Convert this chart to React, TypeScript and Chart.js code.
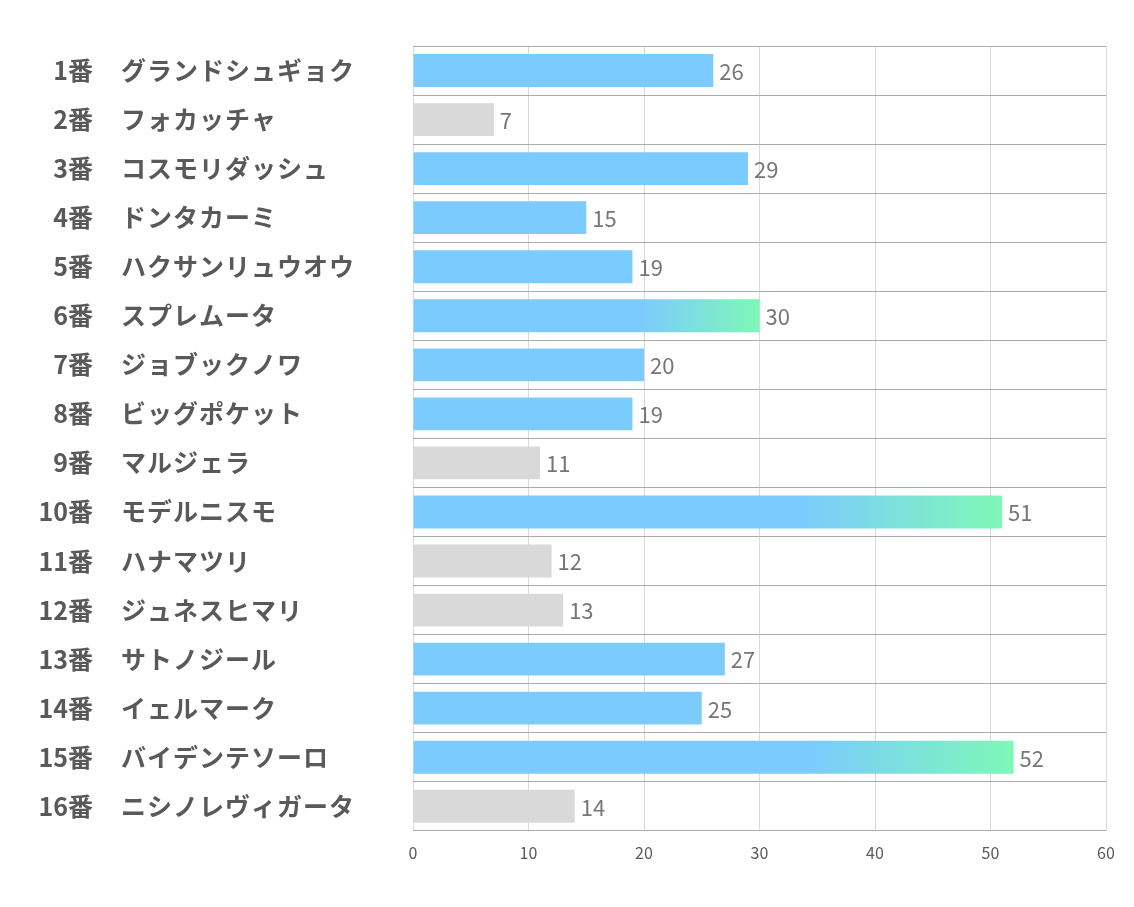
import React, { useEffect, useRef } from "react";
import { Chart, registerables } from "chart.js";

Chart.register(...registerables);

const numbers = ["1番", "2番", "3番", "4番", "5番", "6番", "7番", "8番", "9番", "10番", "11番", "12番", "13番", "14番", "15番", "16番"];
const names = [
  "グランドシュギョク", "フォカッチャ", "コスモリダッシュ", "ドンタカーミ", "ハクサンリュウオウ", "スプレムータ",
  "ジョブックノワ", "ビッグポケット", "マルジェラ", "モデルニスモ", "ハナマツリ", "ジュネスヒマリ",
  "サトノジール", "イェルマーク", "バイデンテソーロ", "ニシノレヴィガータ",
];
const values = [26, 7, 29, 15, 19, 30, 20, 19, 11, 51, 12, 13, 27, 25, 52, 14];
const kinds = ["b", "g", "b", "b", "b", "x", "b", "b", "g", "x", "g", "g", "b", "b", "x", "g"];
const xTicks = [0, 10, 20, 30, 40, 50, 60];

const BLUE = "#7BCBFE";
const GREEN = "#7EF8B6";
const GRAY = "#D9D9D9";
const FONT = "'Noto Sans CJK JP', 'Noto Sans', sans-serif";

export default function App() {
  const ref = useRef<HTMLCanvasElement | null>(null);
  useEffect(() => {
    document.body.style.margin = "0";
    const canvas = ref.current!;
    const labelPlugin = {
      id: "rowLabels",
      afterDraw(chart: any) {
        const ctx = chart.ctx;
        const y = chart.scales.y;
        const x = chart.scales.x;
        ctx.save();
        ctx.textBaseline = "middle";
        ctx.fillStyle = "#595959";
        ctx.font = `bold 25px ${FONT}`;
        numbers.forEach((n, i) => {
          const py = y.getPixelForValue(i);
          ctx.textAlign = "right";
          (ctx as any).letterSpacing = "0px";
          ctx.fillText(n, 93, py);
          ctx.textAlign = "left";
          (ctx as any).letterSpacing = "1px";
          ctx.fillText(names[i], 121, py);
        });
        (ctx as any).letterSpacing = "0px";
        ctx.font = `22px ${FONT}`;
        ctx.fillStyle = "#767676";
        ctx.textAlign = "left";
        values.forEach((v, i) => {
          ctx.fillText(String(v), x.getPixelForValue(v) + 6, y.getPixelForValue(i) + 1);
        });
        ctx.restore();
      },
    };
    const chart = new Chart(canvas, {
      type: "bar",
      data: {
        labels: numbers.map((n, i) => n + "　" + names[i]),
        datasets: [
          {
            data: values,
            barPercentage: 0.67,
            categoryPercentage: 1,
            backgroundColor: (c: any) => {
              const i = c.dataIndex;
              const k = kinds[i];
              if (k === "g") return GRAY;
              if (k === "b") return BLUE;
              const sx = c.chart.scales?.x;
              if (!sx || i === undefined) return BLUE;
              const x0 = sx.getPixelForValue(0);
              const x1 = sx.getPixelForValue(values[i]);
              if (!isFinite(x0) || !isFinite(x1) || x1 <= x0) return BLUE;
              const g = c.chart.ctx.createLinearGradient(x0, 0, x1, 0);
              g.addColorStop(0, BLUE);
              g.addColorStop(0.66, BLUE);
              g.addColorStop(1, GREEN);
              return g;
            },
          },
        ],
      },
      options: {
        indexAxis: "y",
        animation: false,
        responsive: false,
        maintainAspectRatio: false,
        layout: { padding: { left: 413, top: 46, right: 28, bottom: 31 } },
        plugins: { legend: { display: false }, tooltip: { enabled: false } },
        scales: {
          x: {
            min: 0,
            max: 60,
            afterBuildTicks: (s: any) => {
              s.ticks = xTicks.map((v) => ({ value: v }));
            },
            grid: { color: "#D9D9D9", lineWidth: 1, drawTicks: false },
            border: { display: false },
            ticks: { color: "#595959", font: { family: FONT, size: 16 }, padding: 13 },
          },
          y: {
            grid: { color: "#ABABAB", lineWidth: 1, offset: true, drawTicks: false },
            border: { display: false },
            ticks: { display: false },
          },
        },
      },
      plugins: [labelPlugin],
    } as any);
    return () => chart.destroy();
  }, []);
  return (
    <div style={{ width: 1134, height: 907 }}>
      <canvas ref={ref} width={1134} height={907} style={{ width: 1134, height: 907, display: "block" }} />
    </div>
  );
}
